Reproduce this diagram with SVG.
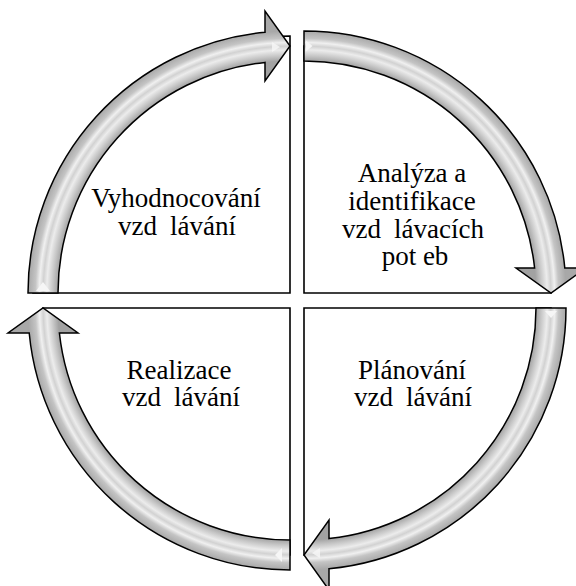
<svg xmlns="http://www.w3.org/2000/svg" xmlns:xlink="http://www.w3.org/1999/xlink" width="576" height="586" viewBox="0 0 576 586">
  <defs>
    <radialGradient id="gTL" gradientUnits="userSpaceOnUse" cx="290" cy="293" r="262">
      <stop offset="0" stop-color="#a4a4a4"/>
      <stop offset="0.885" stop-color="#a2a2a2"/>
      <stop offset="0.905" stop-color="#c6c6c6"/>
      <stop offset="0.928" stop-color="#ececec"/>
      <stop offset="0.942" stop-color="#d2d2d2"/>
      <stop offset="0.956" stop-color="#f0f0f0"/>
      <stop offset="0.972" stop-color="#c4c4c4"/>
      <stop offset="1" stop-color="#a8a8a8"/>
    </radialGradient>
    <radialGradient id="gTR" href="#gTL" xlink:href="#gTL" gradientUnits="userSpaceOnUse" cx="304" cy="293" r="262"/>
    <radialGradient id="gBR" href="#gTL" xlink:href="#gTL" gradientUnits="userSpaceOnUse" cx="304" cy="308" r="262"/>
    <radialGradient id="gBL" href="#gTL" xlink:href="#gTL" gradientUnits="userSpaceOnUse" cx="290" cy="308" r="262"/>
  </defs>
  <style>
    .quad { fill: #ffffff; stroke: #000000; stroke-width: 1.6; stroke-linejoin: miter; }
    .arrow { stroke: #000000; stroke-width: 1.5; stroke-linejoin: miter; }
    .shine { fill: #f6f6f6; stroke: none; }
  </style>

  <g font-family="Liberation Serif, serif" font-size="27" fill="#000000" text-anchor="middle">
  <g id="node-vyhodnocovani">
    <path class="quad" d="M 290,293 L 33,293 A 257 257 0 0 1 290,36 Z"/>
    <text x="176" y="207" font-family="Liberation Serif">Vyhodnocování</text>
    <text x="177" y="235" font-family="Liberation Serif">vzd<tspan dx="13">lávání</tspan></text>
  </g>

  <g id="node-analyza">
    <path class="quad" d="M 304,293 L 304,46 A 247 247 0 0 1 551,293 Z"/>
    <text x="412" y="182" font-family="Liberation Serif">Analýza a</text>
    <text x="412" y="210" font-family="Liberation Serif">identifikace</text>
    <text x="413" y="237.5" font-family="Liberation Serif">vzd<tspan dx="13">lávacích</tspan></text>
    <text x="415" y="265" font-family="Liberation Serif">pot eb</text>
  </g>

  <g id="node-planovani">
    <path class="quad" d="M 304,308 L 551,308 A 247 247 0 0 1 304,555 Z"/>
    <text x="412" y="379" font-family="Liberation Serif">Plánování</text>
    <text x="413" y="406" font-family="Liberation Serif">vzd<tspan dx="13">lávání</tspan></text>
  </g>

  <g id="node-realizace">
    <path class="quad" d="M 290,308 L 290,555 A 247 247 0 0 1 43,308 Z"/>
    <text x="179" y="379" font-family="Liberation Serif">Realizace</text>
    <text x="181" y="406" font-family="Liberation Serif">vzd<tspan dx="13">lávání</tspan></text>
  </g>
  </g>

  <g id="connectors">
    <g id="arrow-tl">
      <path class="arrow" fill="url(#gTL)" d="M 28,293 A 262 262 0 0 1 265,32.2 L 265,11 L 290,46 L 265,81 L 265,62.4 A 232 232 0 0 0 58,293 Z"/>
      <polygon class="shine" points="36,291 50,291 43,282"/>
      <polygon class="shine" points="272,42 280,47 272,52" opacity="0.85"/>
    </g>
    <g id="arrow-tr">
      <path class="arrow" fill="url(#gTR)" d="M 304,31 A 262 262 0 0 1 564.8,268 L 586,268 L 551,293 L 516,268 L 534.6,268 A 232 232 0 0 0 304,61 Z"/>
      <polygon class="shine" points="306,40.5 312.5,46 306,51.5"/>
    </g>
    <g id="arrow-br">
      <path class="arrow" fill="url(#gBR)" d="M 566,308 A 262 262 0 0 1 329,568.8 L 329,590 L 304,555 L 329,520 L 329,538.6 A 232 232 0 0 0 536,308 Z"/>
      <polygon class="shine" points="545,311 557,311 551,318"/>
      <polygon class="shine" points="320,548 312,553 320,558" opacity="0.85"/>
    </g>
    <g id="arrow-bl">
      <path class="arrow" fill="url(#gBL)" d="M 290,570 A 262 262 0 0 1 29.2,333 L 8,333 L 43,308 L 78,333 L 59.4,333 A 232 232 0 0 0 290,540 Z"/>
      <polygon class="shine" points="282,548 282,562 275,555"/>
    </g>
  </g>
</svg>
